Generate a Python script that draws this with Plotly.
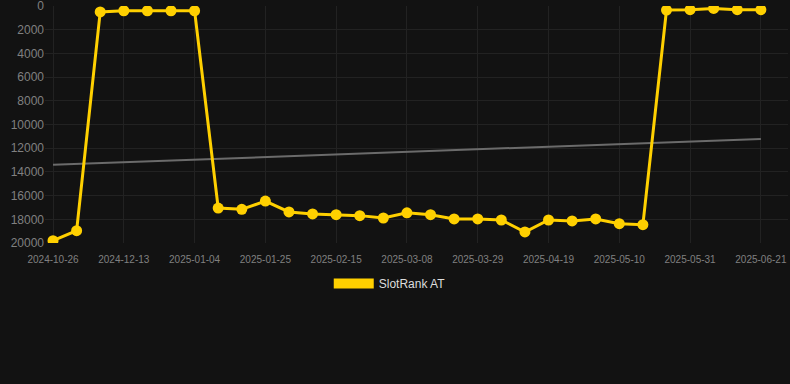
import plotly.graph_objects as go

dates = [
    "2024-10-26", "2024-11-02", "2024-12-06", "2024-12-13", "2024-12-20", "2024-12-28",
    "2025-01-04", "2025-01-11", "2025-01-18", "2025-01-25", "2025-02-01", "2025-02-08",
    "2025-02-15", "2025-02-22", "2025-03-01", "2025-03-08", "2025-03-15", "2025-03-22",
    "2025-03-29", "2025-04-05", "2025-04-12", "2025-04-19", "2025-04-26", "2025-05-03",
    "2025-05-10", "2025-05-17", "2025-05-24", "2025-05-31", "2025-06-07", "2025-06-14",
    "2025-06-21",
]
rank_values = [
    19800, 18960, 500, 400, 400, 400,
    400, 17050, 17160, 16460, 17380, 17550,
    17610, 17690, 17890, 17450, 17610, 17970,
    17970, 18060, 19070, 18060, 18140, 17970,
    18370, 18450, 340, 310, 200, 310,
    310,
]
trend_dates = [dates[0], dates[-1]]
trend_values = [13400, 11220]
tick_labels = dates[::3]
y_ticks = [0, 2000, 4000, 6000, 8000, 10000, 12000, 14000, 16000, 18000, 20000]

GOLD = "#FFD000"
BG = "#121212"
GRID = "#222222"

fig = go.Figure()
fig.add_trace(go.Scatter(
    x=trend_dates, y=trend_values, mode="lines",
    line=dict(color="#6b6b6b", width=2), showlegend=False, hoverinfo="skip",
))
fig.add_trace(go.Scatter(
    x=dates, y=rank_values, mode="lines+markers",
    line=dict(color=GOLD, width=3), marker=dict(color=GOLD, size=11),
    showlegend=False, name="SlotRank AT",
))
fig.add_trace(go.Scatter(
    x=[None], y=[None], mode="lines", name="SlotRank AT",
    line=dict(color=GOLD, width=12),
))

fig.update_layout(
    width=790, height=384,
    paper_bgcolor=BG, plot_bgcolor=BG,
    margin=dict(l=45, r=2, t=6, b=141),
    font=dict(family="Liberation Sans, Arial, sans-serif"),
    showlegend=True,
    legend=dict(
        orientation="h", x=0.464, xanchor="center", y=-0.11, yanchor="top",
        font=dict(color="#dddddd", size=12), itemwidth=40,
        bgcolor="rgba(0,0,0,0)",
    ),
    xaxis=dict(
        type="category", categoryorder="array", categoryarray=dates,
        range=[-0.34, 31.15],
        tickmode="array", tickvals=tick_labels, ticktext=tick_labels,
        tickfont=dict(color="#808080", size=10),
        showgrid=True, gridcolor=GRID, gridwidth=1,
        zeroline=False, showline=False,
        ticks="outside", ticklen=7, tickcolor="rgba(0,0,0,0)",
        ticklabeloverflow="allow", automargin=False,
    ),
    yaxis=dict(
        range=[20000, -1], tickmode="array", tickvals=y_ticks,
        ticktext=[str(v) for v in y_ticks],
        tickfont=dict(color="#808080", size=12),
        showgrid=True, gridcolor=GRID, gridwidth=1,
        zeroline=False, showline=False, ticklen=0,
        ticklabeloverflow="allow", automargin=False,
    ),
)

fig.write_html(
    "out.html",
    config={"displayModeBar": False},
    post_script="document.body.style.margin='0';document.body.style.background='#121212';",
)
